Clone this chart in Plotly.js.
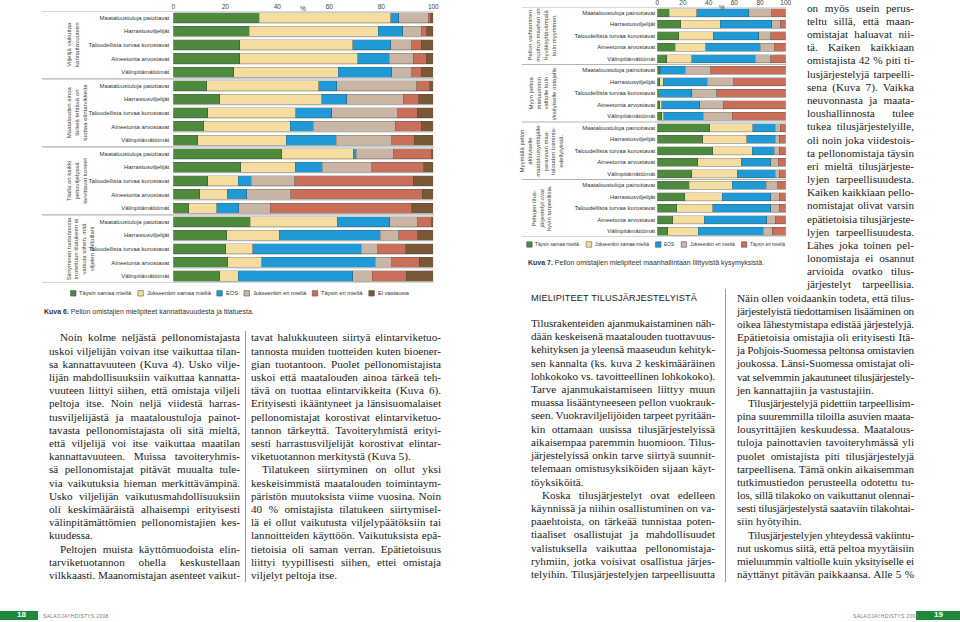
<!DOCTYPE html>
<html><head><meta charset="utf-8">
<script src="https://cdn.plot.ly/plotly-3.0.1.min.js"></script>
<style>
html,body{margin:0;padding:0;background:#fff;}
#page{position:relative;width:960px;height:622px;overflow:hidden;background:#fff;}
#chart{position:absolute;left:0;top:0;width:960px;height:622px;}
.ln{position:absolute;white-space:nowrap;font-family:"Liberation Serif","Times New Roman",serif;font-size:11.2px;line-height:13.2px;color:#1c1c1c;}
.vline{position:absolute;width:0;border-left:0.8px solid #9a9a9a;}
.head{position:absolute;white-space:nowrap;font-family:"Liberation Sans",Arial,sans-serif;font-size:9.2px;color:#222;letter-spacing:0.15px;}
.foot{position:absolute;white-space:nowrap;font-family:"Liberation Sans",Arial,sans-serif;font-size:5px;color:#777;letter-spacing:0.3px;}
.gbar{position:absolute;background:#1f8a3c;}
.pnum{position:absolute;font-family:"Liberation Sans",Arial,sans-serif;font-size:8px;color:#fff;font-weight:bold;}
</style></head>
<body><div id="page"><div id="chart"></div></div>
<script>
// ---------- DATA ----------
const tickValues = [0, 20, 40, 60, 80, 100];
const seriesNames = ["Täysin samaa mieltä", "Jokseenkin samaa mieltä", "EOS", "Jokseenkin eri mieltä", "Täysin eri mieltä", "Ei vastausta"];
const seriesColors = ["#4e8a3e", "#f4dd9e", "#1f9ad6", "#c8b5a3", "#c86f5a", "#7a5737"];

// Kuva 6
const k6Categories = ["Maataloustuloja paiottavat", "Harrastusviljelijät", "Taloudellista turvaa korostavat", "Aineetonta arvostavat", "Välinpitämättömät"];
const k6Groups = ["Viljelijä vaikuttaa<br>kannattavuuteen", "Maatalouden ainoa<br>tärkeä tehtävä on<br>tuottaa elintarvikkeita", "Tilalla on kaikki<br>peltoviljelyssä<br>tarvittavat koneet", "Siirtyminen tuotannosta<br>irrotettuun tilatukeen ei<br>vaikuta siihen, mitä<br>viljelen pelloillani"];
const k6TaysinSamaa    = [33.1, 29.2, 25.5, 25.5, 23.2, 12.8, 17.9, 13.2, 11.7, 9.4, 41.7, 25.9, 13.2, 10.1, 5.9, 29.5, 20.5, 20.1, 21.0, 17.9];
const k6JokseenkinSamaa= [50.5, 49.6, 43.5, 45.5, 40.3, 43.1, 39.2, 33.9, 33.2, 34.1, 27.5, 21.0, 11.8, 10.7, 10.8, 33.6, 20.3, 10.4, 13.0, 7.1];
const k6Eos            = [3.1, 9.4, 14.6, 12.1, 20.5, 6.9, 9.6, 13.8, 8.9, 19.1, 1.1, 10.4, 4.9, 7.4, 8.4, 20.2, 38.7, 41.7, 43.7, 44.0];
const k6JokseenkinEri  = [11.4, 7.1, 8.2, 9.2, 7.8, 30.8, 21.8, 25.4, 31.5, 21.5, 14.3, 19.0, 16.8, 16.9, 12.2, 10.5, 7.2, 6.4, 6.3, 7.5];
const k6TaysinEri      = [1.0, 2.1, 3.5, 4.9, 3.6, 5.1, 5.9, 7.5, 10.0, 8.6, 14.8, 20.1, 45.6, 50.7, 54.4, 5.6, 7.3, 10.8, 10.6, 13.0];
const k6EiVastausta    = [0.9, 2.6, 4.7, 2.8, 4.6, 1.3, 5.6, 6.2, 4.7, 7.3, 0.6, 3.6, 7.7, 4.2, 8.3, 0.6, 6.0, 10.6, 5.4, 10.5];

// Kuva 7
const k7Categories = ["Maataloustuloja painottavat", "Harrastusviljelijät", "Taloudellista turvaa korostavat", "Aineetonta arvostavat", "Välinpitämättömät"];
const k7Groups = ["Pellon vaihtaminen<br>muuhun maahan on<br>hyväksyttävämpää<br>kuin myyminen.", "Myyn peltoa<br>mieluummin<br>valtiolle kuin<br>yksityiselle ostajalle.", "Myymällä pellon<br>aktiiviselle<br>maatalousyrittäjälle<br>parannan maa-<br>talouden toiminta-<br>edellytyksiä.", "Peltojen tilus-<br>järjestelyt ovat<br>hyvin tarpeellisia."];
const k7TaysinSamaa    = [9.4, 18.4, 16.6, 13.8, 7.5, 2.1, 2.1, 1.6, 2.1, 3.6, 40.8, 35.3, 43.1, 31.4, 26.8, 24.7, 21.3, 15.1, 12.2, 8.1];
const k7JokseenkinSamaa= [21.2, 30.7, 27.0, 24.1, 19.3, 0.2, 2.6, 0.5, 1.3, 1.6, 33.5, 34.3, 30.9, 33.8, 35.5, 33.7, 29.1, 28.0, 24.4, 23.8];
const k7Eos            = [40.6, 40.0, 35.4, 42.1, 49.3, 19.3, 34.3, 24.9, 29.8, 30.6, 17.4, 22.1, 16.9, 23.1, 29.6, 26.3, 37.9, 45.2, 48.6, 50.7];
const k7JokseenkinEri  = [17.9, 6.7, 9.3, 10.9, 12.2, 20.2, 20.7, 19.2, 18.2, 22.6, 4.1, 3.3, 4.1, 6.0, 3.1, 9.1, 6.7, 6.7, 6.7, 7.0];
const k7TaysinEri      = [10.9, 4.2, 11.7, 9.1, 11.7, 58.2, 40.3, 53.8, 48.6, 41.6, 4.2, 5.0, 5.0, 5.7, 5.0, 6.2, 5.0, 5.0, 8.1, 10.4];

const k6Caption = "<b>Kuva 6.</b> Pellon omistajien mielipiteet kannattavuudesta ja tilatuesta.";
const k7Caption = "<b>Kuva 7.</b> Pellon omistajien mielipiteet maanhallintaan liittyvistä kysymyksistä.";

// ---------- BODY TEXT ----------
const colLeft = [
"^Noin kolme neljästä pellonomistajasta",
"uskoi viljelijän voivan itse vaikuttaa tilan-",
"sa kannattavuuteen (Kuva 4). Usko vilje-",
"lijän mahdollisuuksiin vaikuttaa kannatta-",
"vuuteen liittyi siihen, että omistaja viljeli",
"peltoja itse. Noin neljä viidestä harras-",
"tusviljelijästä ja maataloustuloja painot-",
"tavasta pellonomistajasta oli sitä mieltä,",
"että viljelijä voi itse vaikuttaa maatilan",
"kannattavuuteen. Muissa tavoiteryhmis-",
"sä pellonomistajat pitävät muualta tule-",
"via vaikutuksia hieman merkittävämpinä.",
"Usko viljelijän vaikutusmahdollisuuksiin",
"oli keskimääräistä alhaisempi erityisesti",
"välinpitämättömien pellonomistajien kes-",
"kuudessa.$",
"^Peltojen muista käyttömuodoista elin-",
"tarviketuotannon ohella keskustellaan",
"vilkkaasti. Maanomistajan asenteet vaikut-"
];
const colMiddle = [
"tavat halukkuuteen siirtyä elintarviketuo-",
"tannosta muiden tuotteiden kuten bioener-",
"gian tuotantoon. Puolet pellonomistajista",
"uskoi että maatalouden ainoa tärkeä teh-",
"tävä on tuottaa elintarvikkeita (Kuva 6).",
"Erityisesti ikääntyneet ja länsisuomalaiset",
"pellonomistajat korostivat elintarviketuo-",
"tannon tärkeyttä. Tavoiteryhmistä erityi-",
"sesti harrastusviljelijät korostivat elintar-",
"viketuotannon merkitystä (Kuva 5).$",
"^Tilatukeen siirtyminen on ollut yksi",
"keskeisimmistä maatalouden toimintaym-",
"päristön muutoksista viime vuosina. Noin",
"40 % omistajista tilatukeen siirtymisel-",
"lä ei ollut vaikutusta viljelypäätöksiin tai",
"lannoitteiden käyttöön. Vaikutuksista epä-",
"tietoisia oli saman verran. Epätietoisuus",
"liittyi tyypillisesti siihen, ettei omistaja",
"viljelyt peltoja itse.$"
];
const heading = "MIELIPITEET TILUSJÄRJESTELYISTÄ";
const colRightA = [
"Tilusrakenteiden ajanmukaistaminen näh-",
"dään keskeisenä maatalouden tuottavuus-",
"kehityksen ja yleensä maaseudun kehityk-",
"sen kannalta (ks. kuva 2 keskimääräinen",
"lohkokoko vs. tavoitteellinen lohkokoko).",
"Tarve ajanmukaistamiseen liittyy muun",
"muassa lisääntyneeseen pellon vuokrauk-",
"seen. Vuokraviljelijöiden tarpeet pyritään-",
"kin ottamaan uusissa tilusjärjestelyissä",
"aikaisempaa paremmin huomioon. Tilus-",
"järjestelyissä onkin tarve siirtyä suunnit-",
"telemaan omistusyksiköiden sijaan käyt-",
"töyksiköitä.$",
"^Koska tilusjärjestelyt ovat edelleen",
"käynnissä ja niihin osallistuminen on va-",
"paaehtoista, on tärkeää tunnistaa poten-",
"tiaaliset osallistujat ja mahdollisuudet",
"valistuksella vaikuttaa pellonomistaja-",
"ryhmiin, jotka voisivat osallistua järjes-",
"telyihin. Tilusjärjestelyjen tarpeellisuutta"
];
const colRightBUpper = [
"on myös usein perus-",
"teltu sillä, että maan-",
"omistajat haluavat nii-",
"tä. Kaiken kaikkiaan",
"omistajista 42 % piti ti-",
"lusjärjestelyjä tarpeelli-",
"sena (Kuva 7). Vaikka",
"neuvonnasta ja maata-",
"loushallinnosta tulee",
"tukea tilusjärjestelyille,",
"oli noin joka viidestois-",
"ta pellonomistaja täysin",
"eri mieltä tilusjärjeste-",
"lyjen tarpeellisuudesta.",
"Kaiken kaikkiaan pello-",
"nomistajat olivat varsin",
"epätietoisia tilusjärjeste-",
"lyjen tarpeellisuudesta.",
"Lähes joka toinen pel-",
"lonomistaja ei osannut",
"arvioida ovatko tilus-",
"järjestelyt tarpeellisia."
];
const colRightBLower = [
"Näin ollen voidaankin todeta, että tilus-",
"järjestelyistä tiedottamisen lisääminen on",
"oikea lähestymistapa edistää järjestelyjä.",
"Epätietoisia omistajia oli erityisesti Itä-",
"ja Pohjois-Suomessa peltonsa omistavien",
"joukossa. Länsi-Suomessa omistajat oli-",
"vat selvemmin jakautuneet tilusjärjestely-",
"jen kannattajiin ja vastustajiin.$",
"^Tilusjärjestelyjä pidettiin tarpeellisim-",
"pina suuremmilla tiloilla asuvien maata-",
"lousyrittäjien keskuudessa. Maatalous-",
"tuloja painottavien tavoiteryhmässä yli",
"puolet omistajista piti tilusjärjestelyjä",
"tarpeellisena. Tämä onkin aikaisemman",
"tutkimustiedon perusteella odotettu tu-",
"los, sillä tilakoko on vaikuttanut olennai-",
"sesti tilusjärjestelystä saataviin tilakohtai-",
"siin hyötyihin.$",
"^Tilusjärjestelyjen yhteydessä vakiintu-",
"nut uskomus siitä, että peltoa myytäisiin",
"mieluummin valtiolle kuin yksityiselle ei",
"näyttänyt pitävän paikkaansa. Alle 5 %"
];
const footerText = "SALAOJAYHDISTYS 2008";
const pageNumbers = ["18", "19"];

// ---------- CHART ----------
const W = 960, H = 622;
const px = v => v / W;
const py = v => 1 - v / H;
const FONT = '"Liberation Sans", Arial, sans-serif';

const k6Values = [k6TaysinSamaa, k6JokseenkinSamaa, k6Eos, k6JokseenkinEri, k6TaysinEri, k6EiVastausta];
const k7Values = [k7TaysinSamaa, k7JokseenkinSamaa, k7Eos, k7JokseenkinEri, k7TaysinEri];

function rowsFor(groups, cats) {
  const y = [], text = [];
  groups.forEach((g, gi) => cats.forEach((c, ci) => { y.push(gi * cats.length + ci); text.push(c); }));
  return {y, text};
}
const r6 = rowsFor(k6Groups, k6Categories);
const r7 = rowsFor(k7Groups, k7Categories);

const traces = [];
const BW6 = 0.74, BW7 = 0.66;
k6Values.forEach((vals, si) => traces.push({
  type: 'bar', orientation: 'h', x: vals, y: r6.y, xaxis: 'x', yaxis: 'y', width: BW6,
  name: seriesNames[si], marker: {color: seriesColors[si], line: {color: 'rgba(60,60,60,0.65)', width: 0.4}},
  showlegend: false, hoverinfo: 'skip'
}));
k7Values.forEach((vals, si) => traces.push({
  type: 'bar', orientation: 'h', x: vals, y: r7.y, xaxis: 'x2', yaxis: 'y2', width: BW7,
  name: seriesNames[si], marker: {color: seriesColors[si], line: {color: 'rgba(60,60,60,0.65)', width: 0.4}},
  showlegend: false, hoverinfo: 'skip'
}));

const shapes = [], annotations = [];

// row baselines and group separators
function decorate(rows, nPerGroup, nGroups, bw, xref, yref, sepX0, sepX1) {
  rows.y.forEach(i => shapes.push({type: 'rect', xref: xref, yref: yref, x0: 0, x1: 100,
    y0: i + bw / 2 - 0.02, y1: i + bw / 2 + 0.09, fillcolor: '#d7d7d7', line: {width: 0}, layer: 'below'}));
  for (let g = 0; g <= nGroups; g++) {
    const yy = g * nPerGroup - 0.5;
    shapes.push({type: 'line', xref: 'paper', yref: yref, x0: px(sepX0), x1: px(sepX1), y0: yy, y1: yy,
      line: {color: '#b4b4b4', width: 1.1}, layer: 'below'});
  }
}
decorate(r6, k6Categories.length, k6Groups.length, BW6, 'x', 'y', 42, 434);
decorate(r7, k7Categories.length, k7Groups.length, BW7, 'x2', 'y2', 522, 786);

// group labels
k6Groups.forEach((g, gi) => annotations.push({xref: 'paper', yref: 'y', x: px(64), y: gi * k6Categories.length + (k6Categories.length - 1) / 2,
  text: g, textangle: -90, showarrow: false, font: {size: 6, color: '#444'}, align: 'center'}));
k7Groups.forEach((g, gi) => annotations.push({xref: 'paper', yref: 'y2', x: px(542), y: gi * k7Categories.length + (k7Categories.length - 1) / 2,
  text: g, textangle: -90, showarrow: false, font: {size: 6, color: '#444'}, align: 'center'}));

// percent markers
annotations.push({xref: 'x', yref: 'paper', x: 50, y: py(2.5), text: '%', showarrow: false, font: {size: 6.5, color: '#444'}});
annotations.push({xref: 'x2', yref: 'paper', x: 50, y: py(1.8), text: '%', showarrow: false, font: {size: 6.5, color: '#444'}});

// captions
annotations.push({xref: 'paper', yref: 'paper', x: px(42), y: py(311.7), xanchor: 'left', text: k6Caption, showarrow: false, font: {size: 7, color: '#333'}});
annotations.push({xref: 'paper', yref: 'paper', x: px(526), y: py(263), xanchor: 'left', text: k7Caption, showarrow: false, font: {size: 7, color: '#333'}});

// legends built from the series names / colours, fitted into the reference span
function buildLegend(n, x0, x1, yc, fsMax) {
  const ctx = document.createElement('canvas').getContext('2d');
  const sq = 5.5, pad = 2.2, minGap = 5;
  const names = seriesNames.slice(0, n);
  let fs = fsMax, widths, gap;
  for (;;) {
    ctx.font = fs + 'px "Liberation Sans", Arial, sans-serif';
    widths = names.map(t => sq + pad + ctx.measureText(t).width + 2);
    const total = widths.reduce((a, b) => a + b, 0);
    gap = (x1 - x0 - total) / (n - 1);
    if (gap >= minGap || fs <= 4.5) break;
    fs = Math.round((fs - 0.1) * 10) / 10;
  }
  let x = x0;
  names.forEach((t, i) => {
    shapes.push({type: 'rect', xref: 'paper', yref: 'paper', x0: px(x), x1: px(x + sq), y0: py(yc + sq / 2), y1: py(yc - sq / 2),
      fillcolor: seriesColors[i], line: {color: '#444', width: 0.5}});
    annotations.push({xref: 'paper', yref: 'paper', x: px(x + sq + pad - 1), y: py(yc), xanchor: 'left', yanchor: 'middle',
      text: t, showarrow: false, font: {size: fs, color: '#333'}});
    x += widths[i] + gap;
  });
}
buildLegend(6, 70.5, 409.5, 293.3, 6);
buildLegend(5, 526.7, 786, 244.5, 6);

const yAx = (ticktext, tickvals, dom, standoff) => ({
  domain: dom, range: [tickvals.length - 0.5, -0.5], tickmode: 'array', tickvals: tickvals, ticktext: ticktext,
  showgrid: false, zeroline: false, showline: false, ticks: '', tickfont: {size: 6, color: '#333'},
  ticklabelstandoff: standoff, fixedrange: true
});
const xAx = (dom, anchor) => ({
  domain: dom, range: [0, 100], side: 'top', tickmode: 'array', tickvals: tickValues, ticktext: tickValues.map(String),
  showgrid: false, zeroline: false, showline: false, ticks: '', tickfont: {size: 6.5, color: '#444'}, anchor: anchor, fixedrange: true
});

const layout = {
  width: W, height: H, margin: {l: 0, r: 0, t: 0, b: 0},
  paper_bgcolor: 'rgba(0,0,0,0)', plot_bgcolor: 'rgba(0,0,0,0)',
  font: {family: FONT, color: '#333'},
  barmode: 'stack', showlegend: false,
  xaxis: xAx([px(173.3), px(433.3)], 'y'),
  yaxis: yAx(r6.text, r6.y, [py(282.8), py(10.9)], 3),
  xaxis2: xAx([px(657.3), px(785.7)], 'y2'),
  yaxis2: Object.assign(yAx(r7.text, r7.y, [py(237.0), py(7.0)], 1), {anchor: 'x2'}),
  shapes: shapes, annotations: annotations
};
layout.yaxis.anchor = 'x';
Plotly.newPlot('chart', traces, layout, {staticPlot: true, displayModeBar: false});

// ---------- PAGE TEXT ----------
const page = document.getElementById('page');
const IND = 11;
function renderColumn(lines, x, y0, width, lh) {
  lines.forEach((raw, i) => {
    const indent = raw.startsWith('^');
    const end = raw.endsWith('$');
    const t = raw.replace(/^\^/, '').replace(/\$$/, '');
    const d = document.createElement('div');
    d.className = 'ln';
    d.style.left = (x + (indent ? IND : 0)) + 'px';
    d.style.top = (y0 + i * lh - 6.6) + 'px';
    const w = width - (indent ? IND : 0);
    const sp = document.createElement('span');
    sp.textContent = t;
    d.appendChild(sp);
    page.appendChild(d);
    const nat = sp.getBoundingClientRect().width;
    const spaces = (t.match(/ /g) || []).length;
    if (nat > w) {
      sp.style.letterSpacing = ((w - nat) / t.length) + 'px';
    } else if (!end && spaces > 0) {
      sp.style.wordSpacing = ((w - nat) / spaces) + 'px';
    }
  });
}
renderColumn(colLeft, 49, 338, 191, 13.2);
renderColumn(colMiddle, 251, 338, 190, 13.2);
renderColumn(colRightA, 531, 323.5, 184, 13.22);
renderColumn(colRightBUpper, 807, 8.4, 107, 13.17);
renderColumn(colRightBLower, 737, 8.4 + 22 * 13.17, 177, 13.17);

function vline(x, y0, y1) {
  const d = document.createElement('div');
  d.className = 'vline';
  d.style.left = x + 'px'; d.style.top = y0 + 'px'; d.style.height = (y1 - y0) + 'px';
  page.appendChild(d);
}
vline(245, 331, 582);
vline(725, 289, 582);

const hd = document.createElement('div');
hd.className = 'head'; hd.textContent = heading;
hd.style.left = '531px'; hd.style.top = (299 - 6) + 'px';
page.appendChild(hd);

function footer(barX, barW, numX, num, textX) {
  const b = document.createElement('div'); b.className = 'gbar';
  b.style.left = barX + 'px'; b.style.top = '611px'; b.style.width = barW + 'px'; b.style.height = '9px';
  page.appendChild(b);
  const n = document.createElement('div'); n.className = 'pnum'; n.textContent = num;
  n.style.left = numX + 'px'; n.style.top = '610px';
  page.appendChild(n);
  const f = document.createElement('div'); f.className = 'foot'; f.textContent = footerText;
  f.style.left = textX + 'px'; f.style.top = '612.5px';
  page.appendChild(f);
}
footer(0, 38, 17, pageNumbers[0], 43);
footer(916, 44, 934, pageNumbers[1], 853);
</script>
</body></html>
